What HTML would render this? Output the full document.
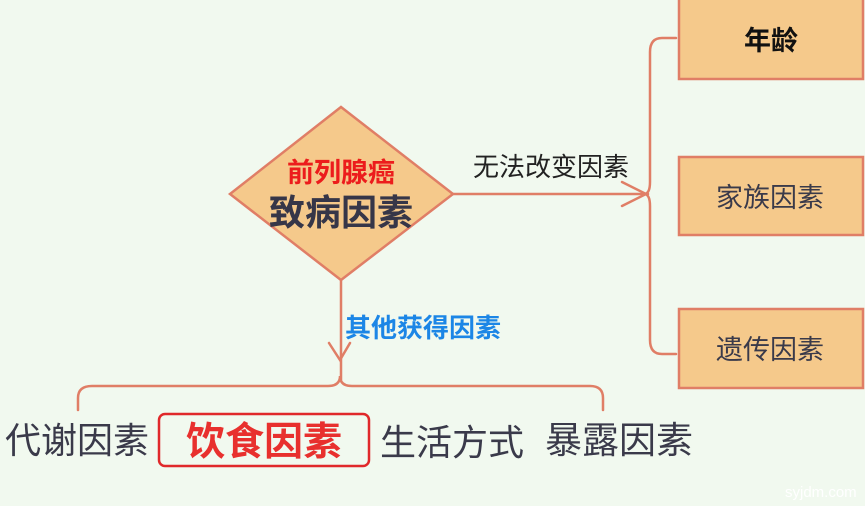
<!DOCTYPE html>
<html><head><meta charset="utf-8"><style>
html,body{margin:0;padding:0;background:#f1f9ef;}
svg{display:block}
text{font-family:"Liberation Sans","Noto Sans CJK SC",sans-serif;}
</style></head><body>
<svg width="865" height="506" viewBox="0 0 865 506" xmlns="http://www.w3.org/2000/svg">
<rect width="865" height="506" fill="#f1f9ef"/>
<g fill="none" stroke="#e07e66" stroke-width="2.5" stroke-linecap="round">
<path d="M453 194 H648"/>
<path d="M622 182 L646 194 L622 206"/>
<path d="M676 38 H662 Q650 38 650 52 V182 Q650 194 644 194 Q650 194 650 206 V340 Q650 354 662 354 H676"/>
<path d="M341 280 V380"/>
<path d="M329 343 L340 360 L350 343"/>
<path d="M78 410 V398 Q78 386 92 386 H328 Q340 386 340 376 Q340 386 352 386 H590 Q603 386 603 398 V410"/>
</g>
<polygon points="341,107 453,194 341,280 230,194" fill="#f5c98b" stroke="#e07e66" stroke-width="2.5"/>
<g fill="#f5c98b" stroke="#e07e66" stroke-width="2.5">
<rect x="679" y="-2" width="184" height="81"/>
<rect x="679" y="157" width="184" height="78"/>
<rect x="679" y="309" width="184" height="79"/>
</g>
<rect x="159" y="414" width="210" height="52" rx="6" fill="none" stroke="#e0282a" stroke-width="2.5"/>
<text x="341" y="182" text-anchor="middle" font-size="27" font-weight="bold" fill="#ec1c1c">前列腺癌</text>
<text x="341" y="225" text-anchor="middle" font-size="36" font-weight="bold" fill="#363648">致病因素</text>
<text x="473" y="176" font-size="26" fill="#222">无法改变因素</text>
<text x="345" y="337" font-size="26" font-weight="bold" fill="#1c86e6">其他获得因素</text>
<text x="771" y="50" text-anchor="middle" font-size="27" font-weight="bold" fill="#111">年龄</text>
<text x="770" y="207" text-anchor="middle" font-size="27" fill="#3a3a4a">家族因素</text>
<text x="770" y="359" text-anchor="middle" font-size="27" fill="#3a3a4a">遗传因素</text>
<text x="5" y="453" font-size="36" fill="#3a3a4a">代谢因素</text>
<text x="264" y="455" text-anchor="middle" font-size="39" font-weight="bold" fill="#e8302e">饮食因素</text>
<text x="380" y="455" font-size="36" fill="#3a3a4a">生活方式</text>
<text x="545" y="453" font-size="37" fill="#3a3a4a">暴露因素</text>
<text x="785" y="497" font-size="15" fill="#ffffff" font-family="Liberation Mono,monospace">syjdm.com</text>
</svg>
</body></html>
